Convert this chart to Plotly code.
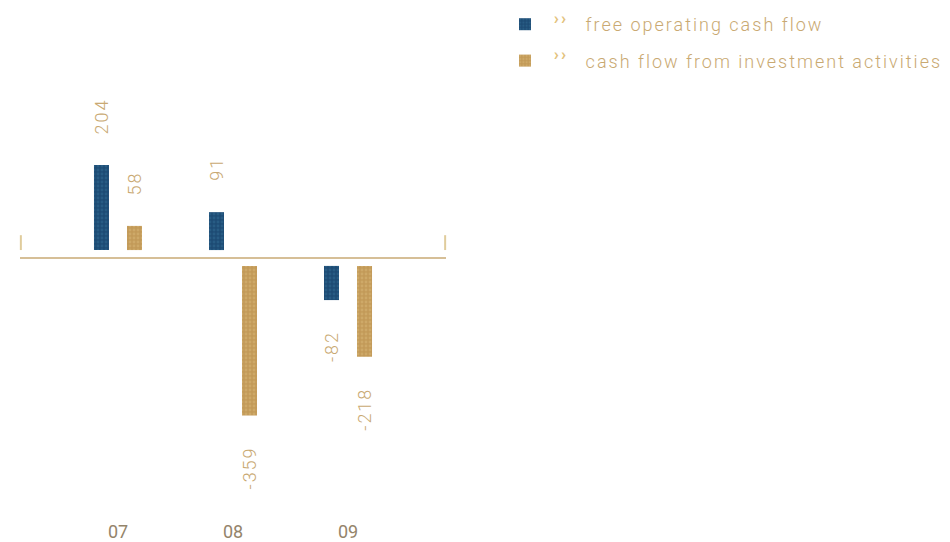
import plotly.graph_objects as go

# Cash flow figures (EUR m) per fiscal year
years = ["07", "08", "09"]
free_operating_cf = [204, 91, -82]
investment_cf = [58, -359, -218]

series_names = ["free operating cash flow", "cash flow from investment activities"]

BLUE = "#1d4b74"
GOLD = "#c39a58"
LABEL_GOLD = "#c9a972"
TICK_BROWN = "#94846a"
LINE_GOLD = "#c8aa74"
FONT = "Roboto"

GAP = 19          # bars float slightly off the zero line
PX_PER_UNIT = 0.42
PLOT_H = 518
ZERO_PX = 260     # zero line distance from top of the plot area
NB = "\u00a0"


def spaced(text, px=2):
    return f"<span style='letter-spacing:{px}px'>{text}</span>"


def bases(values):
    return [GAP if v >= 0 else -GAP for v in values]


def legend_label(name):
    chevrons = ("<sup><span style='font-size:17px;font-weight:bold;"
                "letter-spacing:2px;fill:#e3c27c'>››</span></sup>")
    return NB * 2 + chevrons + NB * 4 + spaced(name)


fig = go.Figure()
for name, vals, color, fg in [
    (series_names[0], free_operating_cf, BLUE, "#2f6790"),
    (series_names[1], investment_cf, GOLD, "#d6b273"),
]:
    fig.add_trace(go.Bar(
        x=years, y=vals, base=bases(vals), name=legend_label(name),
        legendgroup=name,
        marker=dict(color=color, line=dict(width=0),
                    pattern=dict(shape=".", fgcolor=fg, size=4,
                                 solidity=0.4, fgopacity=0.6)),
        hoverinfo="skip",
    ))

# value labels, rotated, sitting ~30px beyond the end of each bar
annotations = []
for vals, shift in [(free_operating_cf, -16.5), (investment_cf, 16.5)]:
    for i, v in enumerate(vals):
        end = (GAP + v) if v >= 0 else (-GAP + v)
        annotations.append(dict(
            x=i, y=end, xref="x", yref="y", xshift=shift,
            yshift=29 if v >= 0 else -29,
            yanchor="bottom" if v >= 0 else "top", xanchor="center",
            text=spaced(str(v)), showarrow=False, textangle=-90,
            font=dict(family=FONT, size=18, color=LABEL_GOLD),
        ))

shapes = [
    # zero line
    dict(type="line", xref="paper", yref="y", x0=0, x1=1, y0=0, y1=0,
         line=dict(color=LINE_GOLD, width=1.5)),
    # small end markers
    dict(type="line", xref="paper", yref="y", x0=0.002, x1=0.002,
         y0=8 / PX_PER_UNIT, y1=23 / PX_PER_UNIT,
         line=dict(color="#e0cc9c", width=2)),
    dict(type="line", xref="paper", yref="y", x0=0.998, x1=0.998,
         y0=8 / PX_PER_UNIT, y1=23 / PX_PER_UNIT,
         line=dict(color="#e0cc9c", width=2)),
]

fig.update_layout(
    width=950, height=542,
    margin=dict(l=20, r=504, t=0, b=542 - PLOT_H),
    paper_bgcolor="white", plot_bgcolor="white",
    barmode="group", bargap=0.426, bargroupgap=0.545,
    font=dict(family=FONT, size=18, color=LABEL_GOLD, weight=300),
    xaxis=dict(
        type="category", range=[-0.852, 2.852], showgrid=False,
        zeroline=False, showline=False, ticks="", ticklabelstandoff=5,
        tickfont=dict(family=FONT, size=18, color=TICK_BROWN, weight=400),
        fixedrange=True,
    ),
    yaxis=dict(
        range=[-(PLOT_H - ZERO_PX) / PX_PER_UNIT, ZERO_PX / PX_PER_UNIT],
        showticklabels=False, showgrid=False,
        zeroline=False, fixedrange=True,
    ),
    legend=dict(
        xref="container", yref="container", x=505 / 950, y=1 - 6 / 542,
        xanchor="left", yanchor="top", traceorder="grouped",
        tracegroupgap=10, bgcolor="rgba(0,0,0,0)",
        font=dict(family=FONT, size=18, color=LABEL_GOLD, weight=300),
    ),
    shapes=shapes,
    annotations=annotations,
)

fig.write_html("out.html")
